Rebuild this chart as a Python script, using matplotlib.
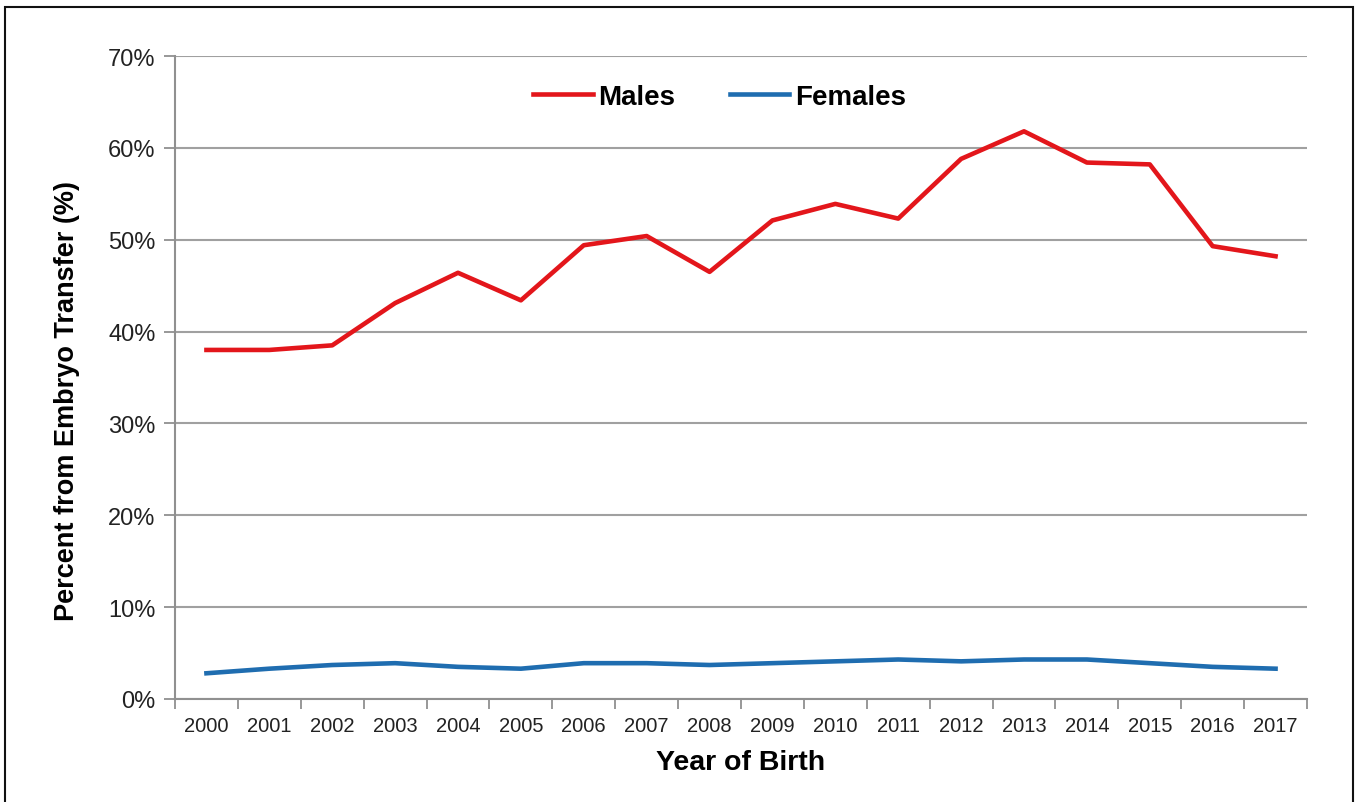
import matplotlib
matplotlib.use("Agg")
import matplotlib.pyplot as plt
from matplotlib.ticker import FuncFormatter, FixedLocator
from matplotlib.patches import Rectangle
import numpy as np

years = [str(y) for y in range(2000, 2018)]
males = [38.0, 38.0, 38.5, 43.1, 46.4, 43.4, 49.4, 50.4, 46.5, 52.1, 53.9, 52.3, 58.8, 61.8, 58.4, 58.2, 49.3, 48.2]
females = [2.8, 3.3, 3.7, 3.9, 3.5, 3.3, 3.9, 3.9, 3.7, 3.9, 4.1, 4.3, 4.1, 4.3, 4.3, 3.9, 3.5, 3.3]
yticks = [0, 10, 20, 30, 40, 50, 60, 70]

plt.rcParams['font.family'] = ['Liberation Sans', 'DejaVu Sans']

fig = plt.figure(figsize=(13.58, 8.03), dpi=100)
ax = fig.add_axes([175/1358, 1-700/803, (1307-175)/1358, (700-57)/803])

x = np.arange(len(years))
ax.plot(x, males, color='#E3161B', lw=3.3, label='Males')
ax.plot(x, females, color='#1F6DB0', lw=3.3, label='Females')

ax.set_xlim(-0.5, len(years) - 0.5)
ax.set_ylim(0, 70)
ax.set_yticks(yticks)
ax.yaxis.set_major_formatter(FuncFormatter(lambda v, p: f"{int(v)}%"))
ax.set_xticks(x)
ax.set_xticklabels(years)
ax.xaxis.set_minor_locator(FixedLocator(np.arange(-0.5, len(years), 1.0)))
ax.tick_params(axis='x', which='major', length=0, labelsize=14.5, pad=12, colors='#222222')
ax.tick_params(axis='x', which='minor', length=7, width=1.3, color='#909090', direction='out')
ax.tick_params(axis='y', which='major', length=8, width=1.3, color='#909090', labelsize=17, pad=6, labelcolor='#222222')

ax.grid(axis='y', color='#A0A0A0', lw=1.5)
ax.set_axisbelow(True)
for s in ['top', 'right']:
    ax.spines[s].set_visible(False)
for s in ['left', 'bottom']:
    ax.spines[s].set_color('#909090')
    ax.spines[s].set_linewidth(1.5)

ax.set_ylabel('Percent from Embryo Transfer (%)', fontsize=19.5, fontweight='bold')
ax.yaxis.set_label_coords(-0.084, 0.465)
ax.set_xlabel('Year of Birth', fontsize=20.5, fontweight='bold', labelpad=10)

leg = ax.legend(loc='upper center', bbox_to_anchor=(0.481, 0.995), ncol=2, frameon=False,
                prop={'size': 20, 'weight': 'bold'}, handlelength=2.15, columnspacing=1.95, handletextpad=0.2)

fig.patches.append(Rectangle((5/1358, -0.01), 1348/1358, 1 - 8/803 + 0.01, transform=fig.transFigure,
                             fill=False, edgecolor='#111111', lw=1.5))

fig.savefig('out.png', dpi=100)
